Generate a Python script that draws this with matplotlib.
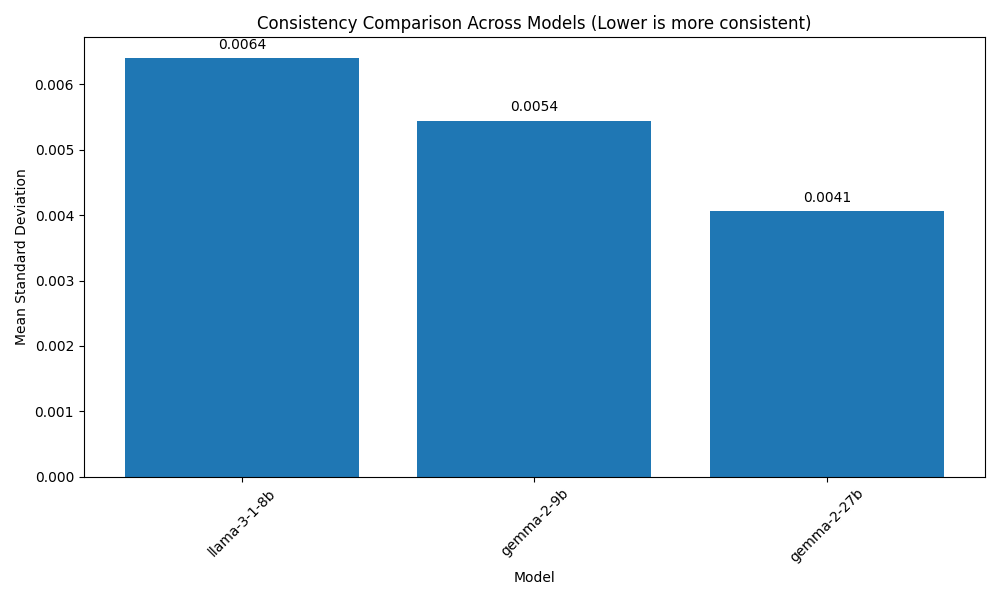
import matplotlib
matplotlib.use("Agg")
import matplotlib.pyplot as plt

modelos = ["llama-3-1-8b", "gemma-2-9b", "gemma-2-27b"]
desvios = [0.00640, 0.00544, 0.00406]

fig, ax = plt.subplots(figsize=(10, 6))
barras = ax.bar(modelos, desvios)

for b, v in zip(barras, desvios):
    ax.text(b.get_x() + b.get_width() / 2, v + 0.0001, f"{v:.4f}",
            ha="center", va="bottom")

ax.set_title("Consistency Comparison Across Models (Lower is more consistent)")
ax.set_xlabel("Model")
ax.set_ylabel("Mean Standard Deviation")
plt.xticks(rotation=45)

plt.tight_layout()
plt.savefig("out.png", dpi=100)
